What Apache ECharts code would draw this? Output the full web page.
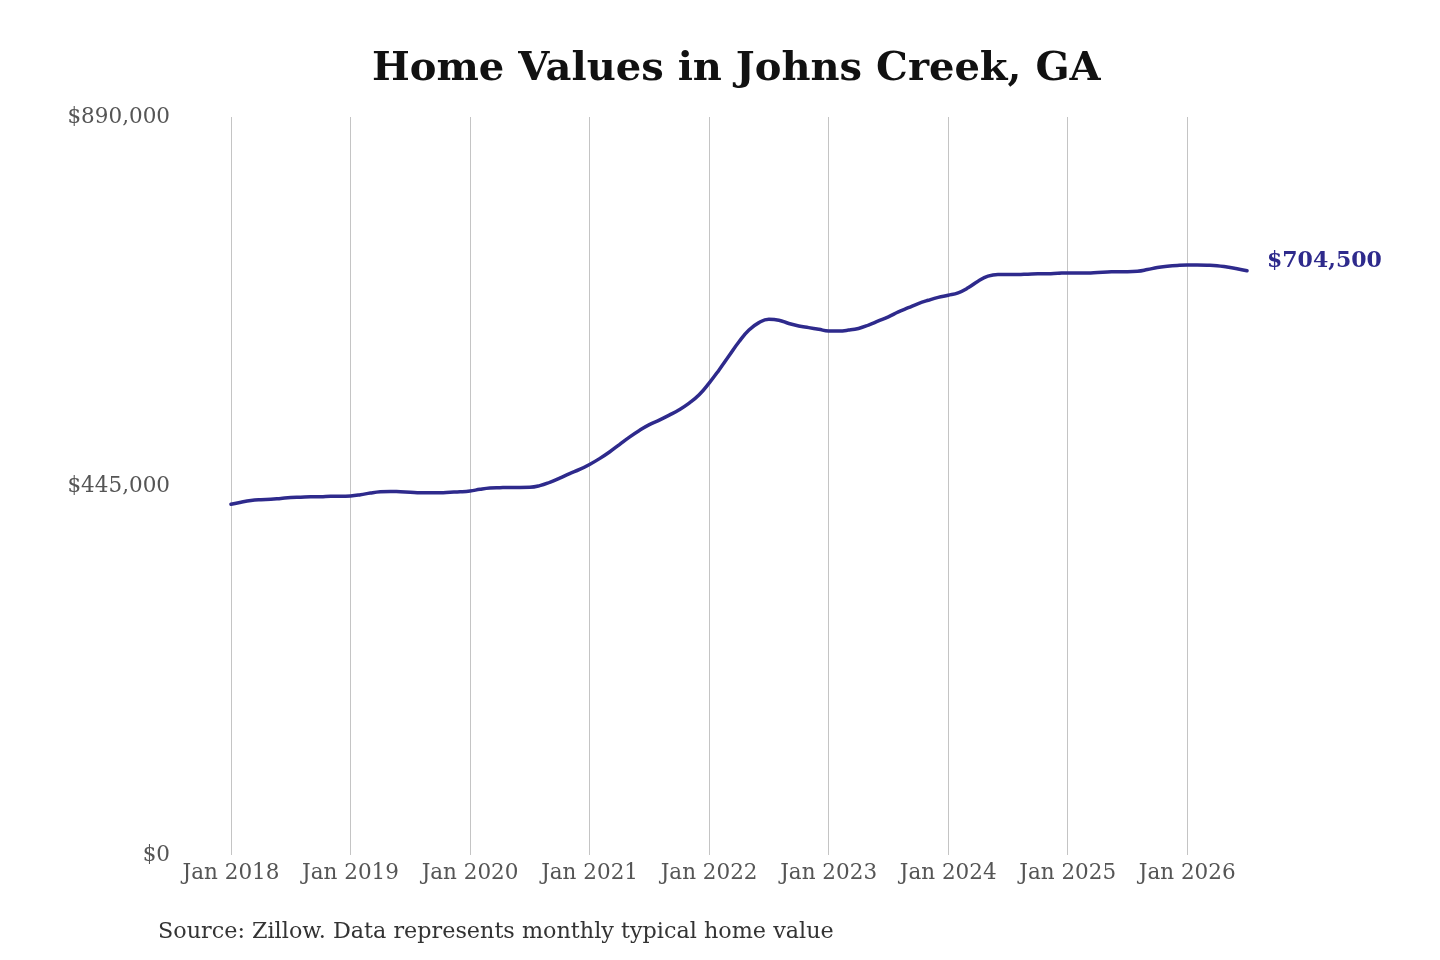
<!DOCTYPE html>
<html>
<head>
<meta charset="utf-8">
<script src="https://cdn.jsdelivr.net/npm/echarts@6/dist/echarts.min.js"></script>
<style>
html,body{margin:0;padding:0;background:#fff;}
#chart{width:1440px;height:960px;}
</style>
</head>
<body>
<div id="chart"></div>
<script>
const monthNames = ['Jan','Feb','Mar','Apr','May','Jun','Jul','Aug','Sep','Oct','Nov','Dec'];
const years = [2018,2019,2020,2021,2022,2023,2024,2025,2026];
const lastMonthIndex2026 = 6; // Jul 2026
const yTicks = [0, 445000, 890000];
const homeValues = [
  423000,425500,427500,428500,429000,430000,431000,431500,432000,432000,432500,432500,
  433000,434500,436500,438000,438500,438000,437500,437000,437000,437000,437500,438000,
  439000,441000,442500,443000,443300,443300,443500,445500,449500,454500,460000,465000,
  471000,478000,486000,495000,504000,512000,519000,524500,530500,537000,545000,555000,
  569000,585000,602000,619000,633000,642000,646000,645000,641000,638000,636000,634000,
  632000,632000,633000,635000,639000,644000,649000,655000,660000,665000,669000,672500,
  675000,678000,684000,692000,698000,700000,700000,700000,700500,701000,701000,701500,
  702000,702000,702000,702500,703000,703500,703500,704000,706000,708500,710000,711000,
  711500,711500,711300,710700,709000,707000,704500
];
const categories = [];
years.forEach(y => {
  monthNames.forEach((m, i) => {
    if (y === 2026 && i > lastMonthIndex2026) return;
    categories.push(m + ' ' + y);
  });
});

const FONT = 'DejaVu Serif';
const chart = echarts.init(document.getElementById('chart'));
const fmt = v => '$' + v.toLocaleString('en-US');
chart.setOption({
  backgroundColor: '#ffffff',
  animation: false,
  title: {
    text: 'Home Values in Johns Creek, GA',
    left: 372,
    top: 50,
    padding: 0,
    textStyle: { fontFamily: FONT, fontWeight: 'bold', fontSize: 40, color: '#111' }
  },
  graphic: [{
    type: 'text',
    left: 158,
    top: 921,
    style: {
      text: 'Source: Zillow. Data represents monthly typical home value',
      font: '22.3px "DejaVu Serif"',
      fill: '#333'
    }
  }],
  grid: { left: 231, right: 193, top: 117, bottom: 105, containLabel: false },
  xAxis: {
    type: 'category',
    data: categories,
    boundaryGap: false,
    axisLine: { show: false },
    axisTick: { show: false },
    axisLabel: {
      interval: (i) => i % 12 === 0,
      fontFamily: FONT, fontSize: 21.5, color: '#555', margin: 7
    },
    splitLine: {
      show: true,
      interval: (i) => i % 12 === 0,
      lineStyle: { color: '#c4c4c4', width: 1 }
    }
  },
  yAxis: {
    type: 'value',
    min: yTicks[0],
    max: yTicks[2],
    interval: yTicks[1],
    axisLine: { show: false },
    axisTick: { show: false },
    splitLine: { show: false },
    axisLabel: {
      formatter: fmt,
      fontFamily: FONT, fontSize: 21.5, color: '#555', margin: 61
    }
  },
  series: [{
    type: 'line',
    data: homeValues,
    smooth: 0.45,
    showSymbol: false,
    lineStyle: { color: '#2e2a8c', width: 3.5, cap: 'round' },
    endLabel: {
      show: true,
      formatter: p => fmt(p.value),
      fontFamily: FONT, fontWeight: 'bold', fontSize: 22, color: '#2e2a8c',
      distance: 20,
      offset: [0, -10]
    }
  }]
});
</script>
</body>
</html>
